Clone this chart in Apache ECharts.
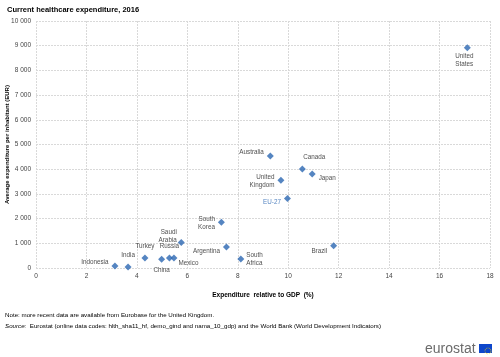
<!DOCTYPE html>
<html><head><meta charset="utf-8">
<script src="https://cdn.jsdelivr.net/npm/echarts@6/dist/echarts.min.js"></script>
<style>html,body{margin:0;padding:0;background:#fff}#c{width:500px;height:357px}</style>
</head><body><div id="c"></div>
<script>
const countries = ['Indonesia','India','Turkey','China','Russia','Mexico','Saudi\nArabia','South\nKorea','Argentina','South\nAfrica','Australia','Canada','Japan','United\nKingdom','EU-27','Brazil','United\nStates'];
const gdpShare = [3.13,3.65,4.32,4.98,5.29,5.47,5.76,7.35,7.55,8.12,9.29,10.56,10.95,9.71,9.97,11.8,17.1];
const perInhabitant = [85,40,405,350,405,405,1030,1850,850,365,4530,4010,3810,3555,2810,905,8920];
const xTicks = [0,2,4,6,8,10,12,14,16,18];
const yTicks = [0,1000,2000,3000,4000,5000,6000,7000,8000,9000,10000];

const labelPlace = {
  'Indonesia': {position:'left', offset:[0,-4]},
  'India': {position:'top', offset:[0,-1]},
  'Turkey': {position:'top', offset:[0,-1]},
  'China': {position:'bottom', offset:[0,0]},
  'Russia': {position:'top', offset:[0,-1]},
  'Mexico': {position:'right', offset:[-2,5]},
  'Saudi\nArabia': {position:'left', offset:[2,-6]},
  'South\nKorea': {position:'left', offset:[0,1]},
  'Argentina': {position:'left', offset:[0,4]},
  'South\nAfrica': {position:'right', offset:[-1,0], align:'left'},
  'Australia': {position:'left', offset:[0,-4]},
  'Canada': {position:'top', offset:[12,-1]},
  'Japan': {position:'right', offset:[0,4]},
  'United\nKingdom': {position:'left', offset:[0,1]},
  'EU-27': {position:'left', offset:[0,4], color:'#2a66b1'},
  'Brazil': {position:'left', offset:[0,6]},
  'United\nStates': {position:'bottom', offset:[-12,-2], align:'left'}
};

const fmt = v => String(v).replace(/\B(?=(\d{3})+(?!\d))/g, ' ');

const data = countries.map((c,i) => {
  const p = labelPlace[c];
  return {
    name: c,
    value: [gdpShare[i], perInhabitant[i]],
    label: {show:true, position:p.position, offset:p.offset, color:p.color||'#1a1a1a', align:p.align, lineHeight:8}
  };
});

const chart = echarts.init(document.getElementById('c'), null, {renderer:'canvas'});
chart.setOption({
  animation:false,
  textStyle:{fontFamily:'Liberation Sans, Arial, sans-serif'},
  title:{text:'Current healthcare expenditure, 2016', left:2, top:1,
    textStyle:{fontSize:7.5, fontWeight:'bold', color:'#000', fontFamily:'Liberation Sans, Arial'}},
  grid:{left:36, right:10, top:21, bottom:89, containLabel:false, outerBoundsMode:'none'},
  xAxis:{type:'value', min:0, max:18, interval:2,
    name:'Expenditure  relative to GDP  (%)', nameLocation:'middle', nameGap:24, nameMoveOverlap:false,
    nameTextStyle:{fontSize:6.5, fontWeight:'bold', color:'#000'},
    axisLine:{show:false}, axisTick:{show:false},
    axisLabel:{fontSize:6.5, color:'#444', margin:5},
    splitLine:{show:true, lineStyle:{color:'#d9d9d9', type:[2,1], width:1}}},
  yAxis:{type:'value', min:0, max:10000, interval:1000,
    name:'Average expenditure per inhabitant (EUR)', nameLocation:'middle', nameGap:26, nameRotate:90, nameMoveOverlap:false,
    nameTextStyle:{fontSize:6, fontWeight:'bold', color:'#000'},
    axisLine:{show:false}, axisTick:{show:false},
    axisLabel:{fontSize:6.5, color:'#444', margin:5, formatter:fmt},
    splitLine:{show:true, lineStyle:{color:'#d9d9d9', type:[2,1], width:1}}},
  series:[{
    type:'scatter', symbol:'diamond', symbolSize:7,
    itemStyle:{color:'#2a66b1'},
    label:{fontSize:6.3, distance:3, formatter:p=>p.name},
    data:data
  }],
  graphic:[
    {type:'text', left:5, top:312, style:{text:'Note: more recent data are available from Eurobase for the United Kingdom.', fontSize:6.2, fill:'#000', fontFamily:'Liberation Sans'}},
    {type:'text', left:5, top:323, style:{rich:{i:{fontStyle:'italic', fontSize:6.2, fontFamily:'Liberation Sans'}, n:{fontSize:6.2, fontFamily:'Liberation Sans'}}, text:'{i|Source:}{n|  Eurostat (online data codes: hlth_sha11_hf, demo_gind and nama_10_gdp) and the World Bank (World Development Indicators)}', fill:'#000'}},
    {type:'text', left:425, top:342, style:{text:'eurostat', fontSize:14, fill:'#6b6b6b', fontFamily:'Liberation Sans'}},
    {type:'rect', left:479, top:344, shape:{width:13, height:9}, style:{fill:'#0e47cb'}},
    {type:'circle', left:482.5, top:345.5, shape:{r:3}, style:{fill:'none', stroke:'#ffdd00', lineWidth:1, lineDash:[0.6,0.9]}}
  ]
});
</script></body></html>
